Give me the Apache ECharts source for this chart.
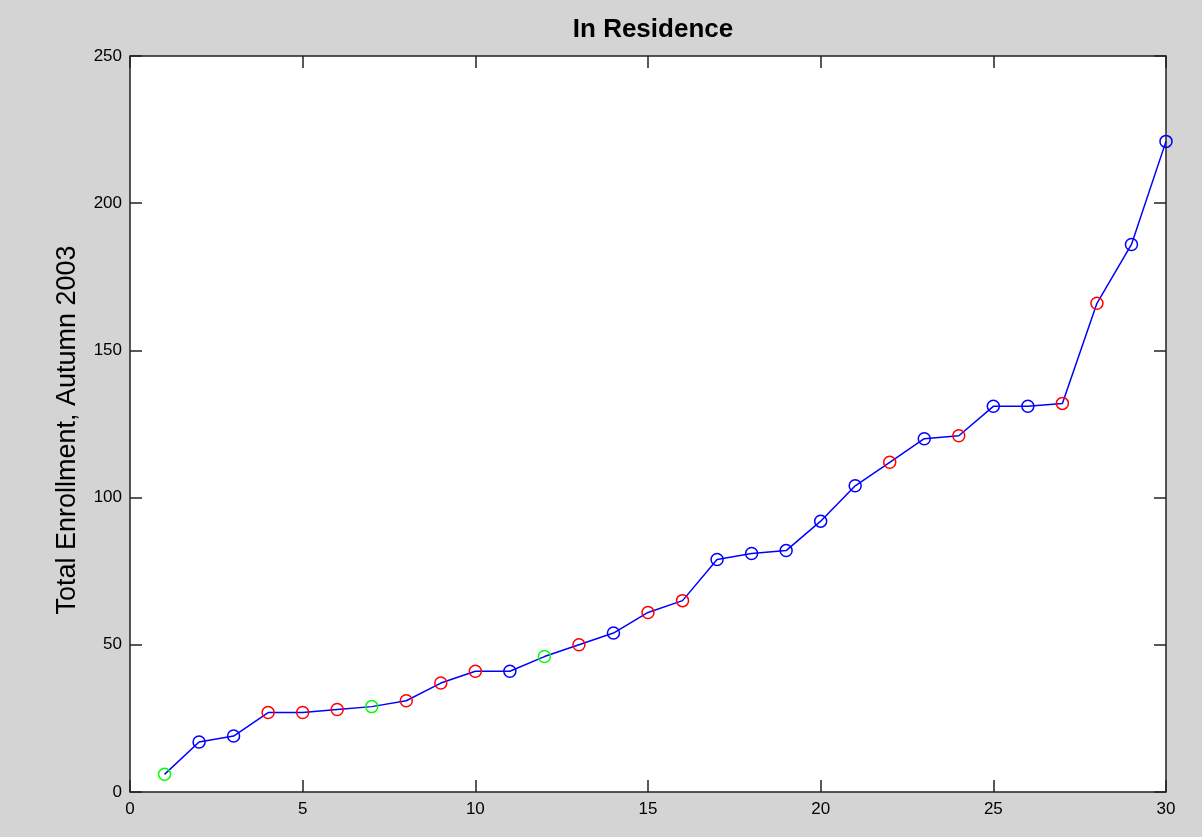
<!DOCTYPE html>
<html>
<head>
<meta charset="utf-8">
<title>In Residence</title>
<script src="https://cdn.jsdelivr.net/npm/echarts@6/dist/echarts.min.js"></script>
<style>
    html, body { margin: 0; padding: 0; background: #d4d4d4; }
    #chart { width: 1202px; height: 837px; }
</style>
</head>
<body>
<div id="chart"></div>
<script>
// rank of each department (x) and its enrollment (y)
const ranks = [1, 2, 3, 4, 5, 6, 7, 8, 9, 10, 11, 12, 13, 14, 15,
    16, 17, 18, 19, 20, 21, 22, 23, 24, 25, 26, 27, 28, 29, 30];
const enrollment = [6, 17, 19, 27, 27, 28, 29, 31, 37, 41, 41, 46, 50, 54, 61,
    65, 79, 81, 82, 92, 104, 112, 120, 121, 131, 131, 132, 166, 186, 221];
// marker group for each point: G / B / R
const groups = ['G', 'B', 'B', 'R', 'R', 'R', 'G', 'R', 'R', 'R', 'B', 'G', 'R', 'B', 'R',
    'R', 'B', 'B', 'B', 'B', 'B', 'R', 'B', 'R', 'B', 'B', 'R', 'R', 'B', 'B'];

const groupColors = { G: '#00ff00', B: '#0000ff', R: '#ff0000' };
const font = 'Liberation Sans, Arial, sans-serif';
const axisColor = '#222';

const chart = echarts.init(document.getElementById('chart'));

const points = ranks.map((r, i) => ({
    value: [r, enrollment[i]],
    itemStyle: { color: 'none', borderColor: groupColors[groups[i]], borderWidth: 1.5 }
}));

const tickStyle = { show: true, inside: true, length: 12, lineStyle: { color: axisColor, width: 1.5 } };
// mirrored axes must not jump onto the zero line
const hiddenLine = { show: false, onZero: false };

chart.setOption({
    backgroundColor: '#d4d4d4',
    animation: false,
    title: {
        text: 'In Residence',
        left: 648,
        top: 12,
        textAlign: 'center',
        textStyle: { fontFamily: font, fontSize: 26, fontWeight: 'bold', color: '#000' }
    },
    graphic: [
        {
            type: 'text',
            x: 68,
            y: 430,
            rotation: Math.PI / 2,
            style: {
                text: 'Total Enrollment, Autumn 2003',
                fontFamily: font,
                fontSize: 27,
                fill: '#000',
                align: 'center',
                verticalAlign: 'middle'
            }
        }
    ],
    grid: {
        left: 130,
        right: 36,
        top: 56,
        bottom: 45,
        show: true,
        backgroundColor: '#fff',
        borderColor: axisColor,
        borderWidth: 1.5
    },
    xAxis: [
        {
            type: 'value',
            min: 0,
            max: 30,
            interval: 5,
            axisLine: hiddenLine,
            axisTick: tickStyle,
            splitLine: { show: false },
            axisLabel: { fontFamily: font, fontSize: 17, color: '#000', margin: 9 }
        },
        {
            type: 'value',
            position: 'top',
            min: 0,
            max: 30,
            interval: 5,
            axisLine: hiddenLine,
            axisTick: tickStyle,
            splitLine: { show: false },
            axisLabel: { show: false }
        }
    ],
    yAxis: [
        {
            type: 'value',
            min: 0,
            max: 250,
            interval: 50,
            axisLine: hiddenLine,
            axisTick: tickStyle,
            splitLine: { show: false },
            axisLabel: { fontFamily: font, fontSize: 17, color: '#000', margin: 8 }
        },
        {
            type: 'value',
            position: 'right',
            min: 0,
            max: 250,
            interval: 50,
            axisLine: hiddenLine,
            axisTick: tickStyle,
            splitLine: { show: false },
            axisLabel: { show: false }
        }
    ],
    series: [
        {
            type: 'line',
            data: points,
            symbol: 'circle',
            symbolSize: 12,
            lineStyle: { color: '#0000ff', width: 1.5 },
            emphasis: { disabled: true }
        }
    ]
});
</script>
</body>
</html>
